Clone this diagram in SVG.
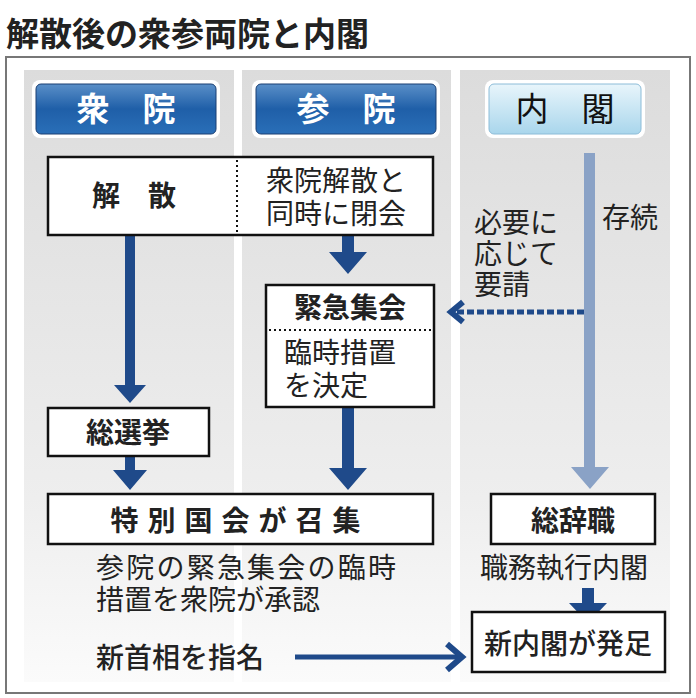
<svg xmlns="http://www.w3.org/2000/svg" width="696" height="698" viewBox="0 0 696 698">
<defs>
<linearGradient id="band" x1="0" y1="0" x2="0" y2="1"><stop offset="0" stop-color="#dcdcdc"/><stop offset="0.7" stop-color="#eeeeee"/><stop offset="1" stop-color="#fbfbfb"/></linearGradient>
<linearGradient id="hdr" x1="0" y1="0" x2="0" y2="1"><stop offset="0" stop-color="#5a8fc8"/><stop offset="0.5" stop-color="#1f5fa8"/><stop offset="1" stop-color="#2a6fb8"/></linearGradient>
<linearGradient id="hdr2" x1="0" y1="0" x2="0" y2="1"><stop offset="0" stop-color="#e8f5fb"/><stop offset="1" stop-color="#a9d6ec"/></linearGradient>
</defs>
<style>
text{font-family:"Noto Sans CJK JP",sans-serif;fill:#222}
.b{fill:#fff;stroke:#111;stroke-width:2.5}
.t{font-size:28px;font-weight:bold}
.n{font-size:28px}
.h{font-size:33px;font-weight:bold;fill:#fff}
</style>
<rect width="696" height="698" fill="#fff"/>
<text x="6" y="46" font-size="33" font-weight="bold">解散後の衆参両院と内閣</text>
<rect x="6" y="57" width="684" height="636" fill="#fff" stroke="#777" stroke-width="2"/>
<rect x="24" y="70" width="210" height="612" fill="url(#band)"/>
<rect x="242" y="70" width="209" height="612" fill="url(#band)"/>
<rect x="460" y="70" width="210" height="612" fill="url(#band)"/>

<g id="hdr-shuin"><rect x="32" y="80" width="188" height="58" rx="8" fill="#fff"/><rect x="36" y="84" width="180" height="50" rx="5" fill="url(#hdr)" stroke="#1b3f73"/><text class="h" x="126" y="121" text-anchor="middle">衆　院</text></g>
<g id="hdr-sanin"><rect x="252" y="80" width="188" height="58" rx="8" fill="#fff"/><rect x="256" y="84" width="180" height="50" rx="5" fill="url(#hdr)" stroke="#1b3f73"/><text class="h" x="346" y="121" text-anchor="middle">参　院</text></g>
<g id="hdr-naikaku"><rect x="485" y="80" width="160" height="58" rx="8" fill="#fff"/><rect x="489" y="84" width="152" height="50" rx="5" fill="url(#hdr2)" stroke="#8cbcd8"/><text class="h" x="565" y="121" text-anchor="middle" style="fill:#111;font-weight:normal">内　閣</text></g>

<g id="connectors">
<path d="M125 235h10v150h11l-16 18l-16-18h11z" fill="#1f4a8a"/>
<path d="M125 456h10v14h12l-17 20l-17-20h12z" fill="#1f4a8a"/>
<path d="M342 235h12v17h13l-19 22l-19-22h13z" fill="#1f4a8a"/>
<path d="M342 407h12v61h13l-19 22l-19-22h13z" fill="#1f4a8a"/>
<path d="M584 153h11v314h14l-19 22l-19-22h13z" fill="#8aa2c6"/>
<line x1="584" y1="312" x2="456" y2="312" stroke="#1f4a8a" stroke-width="5" stroke-dasharray="7 3"/>
<polyline points="463,302 451,312 463,322" fill="none" stroke="#1f4a8a" stroke-width="6"/>
<path d="M582 588h12v15h13l-19 20l-19-20h13z" fill="#1f4a8a"/>
<line x1="295" y1="657" x2="460" y2="657" stroke="#1f4a8a" stroke-width="5"/>
<polyline points="447,644 462,657 447,670" fill="none" stroke="#1f4a8a" stroke-width="6"/>
</g>

<g id="kaisan"><rect class="b" x="48" y="157" width="385" height="78"/><line x1="237" y1="160" x2="237" y2="233" stroke="#111" stroke-width="2" stroke-dasharray="2 3"/><text class="t" x="134" y="206" text-anchor="middle">解　散</text><text class="n" x="336" y="191" text-anchor="middle">衆院解散と</text><text class="n" x="336" y="224" text-anchor="middle">同時に閉会</text></g>
<g id="yousei"><text class="n" x="474" y="233">必要に</text><text class="n" x="474" y="264">応じて</text><text class="n" x="474" y="295">要請</text></g>
<text class="n" x="602" y="228">存続</text>
<g id="kinkyu"><rect class="b" x="266" y="285" width="168" height="122"/><line x1="269" y1="330" x2="431" y2="330" stroke="#111" stroke-width="2" stroke-dasharray="2 3"/><text class="t" x="350" y="318" text-anchor="middle">緊急集会</text><text class="n" x="284" y="363">臨時措置</text><text class="n" x="284" y="396">を決定</text></g>
<g id="senkyo"><rect class="b" x="48" y="408" width="161" height="48"/><text class="t" x="128" y="443" text-anchor="middle">総選挙</text></g>
<g id="tokubetsu"><rect class="b" x="48" y="494" width="385" height="50"/><text class="t" x="240" y="531" text-anchor="middle" letter-spacing="9">特別国会が召集</text></g>
<g id="shoninn"><text class="n" x="96" y="578" textLength="300">参院の緊急集会の臨時</text><text class="n" x="96" y="610">措置を衆院が承認</text></g>
<g id="soujishoku"><rect class="b" x="491" y="494" width="164" height="50"/><text class="t" x="573" y="531" text-anchor="middle">総辞職</text></g>
<text class="n" x="480" y="578">職務執行内閣</text>
<g id="shinnaikaku"><rect class="b" x="472" y="612" width="193" height="60"/><text class="t" x="568" y="654" text-anchor="middle" style="font-weight:500">新内閣が発足</text></g>
<text class="t" x="96" y="668" style="font-weight:500">新首相を指名</text>
</svg>
